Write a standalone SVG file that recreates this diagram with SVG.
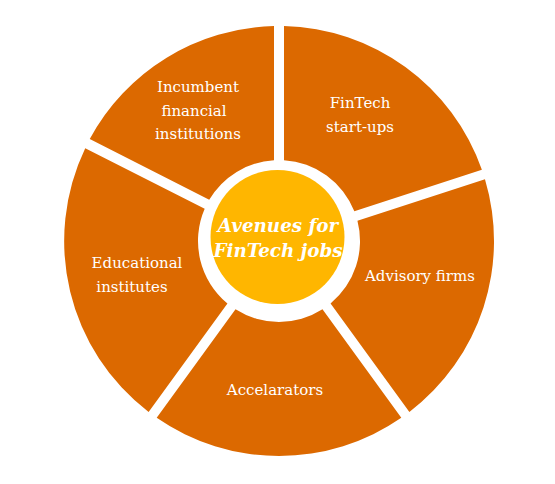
<svg xmlns="http://www.w3.org/2000/svg" width="555" height="484" viewBox="0 0 555 484">
<style>
.seg{fill:#DC6900;}
.lbl{font-family:"DejaVu Serif","Liberation Serif",serif;font-size:15px;fill:#ffffff;text-anchor:middle;}
.ctr{font-family:"DejaVu Serif","Liberation Serif",serif;font-size:18.3px;font-weight:bold;font-style:italic;fill:#ffffff;text-anchor:middle;}
</style>
<rect width="555" height="484" fill="#ffffff"/>
<g id="connectors"></g>
<g id="node-fintech-startups">
<path class="seg" d="M284,26.06 A215,215 0 0 1 481.88,169.83 L354.35,211.27 A81,81 0 0 0 284,160.15 Z"/>
<text class="lbl" x="360" y="108">FinTech</text>
<text class="lbl" x="360" y="132">start-ups</text>
</g>
<g id="node-advisory">
<path class="seg" d="M484.97,179.34 A215,215 0 0 1 409.39,411.95 L330.57,303.47 A81,81 0 0 0 357.44,220.77 Z"/>
<text class="lbl" x="420" y="281">Advisory firms</text>
</g>
<g id="node-accelarators">
<path class="seg" d="M401.30,417.83 A215,215 0 0 1 156.70,417.83 L235.52,309.35 A81,81 0 0 0 322.48,309.35 Z"/>
<text class="lbl" x="275" y="395">Accelarators</text>
</g>
<g id="node-educational">
<path class="seg" d="M148.62,411.95 A215,215 0 0 1 85.22,148.32 L204.69,208.75 A81,81 0 0 0 227.44,303.47 Z"/>
<text class="lbl" x="137" y="268">Educational</text>
<text class="lbl" x="132" y="292">institutes</text>
</g>
<g id="node-incumbent">
<path class="seg" d="M89.76,138.97 A215,215 0 0 1 274,26.06 L274,160.15 A81,81 0 0 0 209.23,199.84 Z"/>
<text class="lbl" x="198" y="92">Incumbent</text>
<text class="lbl" x="194" y="116">financial</text>
<text class="lbl" x="198" y="139">institutions</text>
</g>
<g id="node-center">
<circle cx="277.5" cy="237" r="67" fill="#FFB600"/>
<text class="ctr" x="278" y="232">Avenues for</text>
<text class="ctr" x="278" y="257">FinTech jobs</text>
</g>
</svg>
